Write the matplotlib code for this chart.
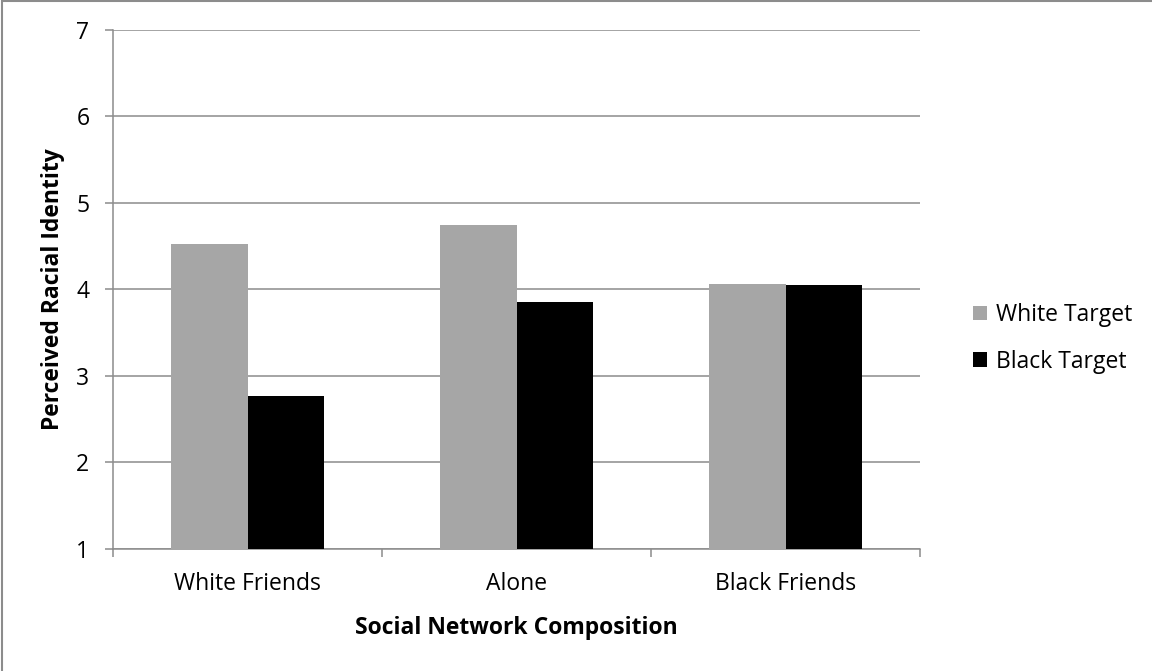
import matplotlib

matplotlib.use("Agg")
import matplotlib.pyplot as plt
import numpy as np
from matplotlib.patches import Rectangle

plt.rcParams["font.family"] = ["Open Sans", "DejaVu Sans"]

categories = ["White Friends", "Alone", "Black Friends"]
white_target = [4.52, 4.74, 4.06]
black_target = [2.77, 3.85, 4.05]
series_names = ["White Target", "Black Target"]
series_colors = ["#A6A6A6", "#000000"]

grid_gray = "#8C8C8C"
fs = 16.5

fig = plt.figure(figsize=(11.52, 6.71), dpi=100)
ax = fig.add_axes([113 / 1152, 1 - 548.7 / 671, (920 - 113) / 1152, (548.7 - 30) / 671])

x = np.arange(len(categories))
width = 0.285
base = 1
for k, (vals, name, color) in enumerate(zip([white_target, black_target], series_names, series_colors)):
    offset = (k - 0.5) * width
    ax.bar(
        x + offset,
        np.array(vals) - base,
        width,
        bottom=base,
        color=color,
        label=name,
        zorder=3,
    )

ax.set_xlim(-0.5, len(categories) - 0.5)
ax.set_ylim(1, 7)
ax.set_yticks(np.arange(1, 8))
ax.yaxis.grid(True, color=grid_gray, linewidth=1.1, zorder=0)

ax.set_xticks(x)
ax.set_xticklabels(categories, fontsize=fs)
ax.set_xticks(np.arange(-0.5, len(categories)), minor=True)
ax.tick_params(axis="x", which="major", length=0, pad=17)
ax.tick_params(axis="x", which="minor", length=5.5, width=1.1, color=grid_gray, direction="out")
ax.tick_params(axis="y", length=6, width=1.1, color=grid_gray, labelsize=fs, pad=11)

for side in ["top", "right"]:
    ax.spines[side].set_visible(False)
for side in ["left", "bottom"]:
    ax.spines[side].set_color(grid_gray)
    ax.spines[side].set_linewidth(1.1)

ax.set_xlabel("Social Network Composition", fontsize=fs, fontweight="bold", labelpad=14)
ax.set_ylabel("Perceived Racial Identity", fontsize=fs, fontweight="bold", labelpad=8)

ax.legend(
    loc="center left",
    bbox_to_anchor=(952 / 1152, 1 - 338.5 / 671),
    bbox_transform=fig.transFigure,
    frameon=False,
    fontsize=fs,
    handlelength=0.62,
    handleheight=0.62,
    handletextpad=0.4,
    labelspacing=1.0,
)

fig.patches.append(
    Rectangle(
        (0.0015, -0.05),
        1.1,
        1.049,
        transform=fig.transFigure,
        fill=False,
        edgecolor=grid_gray,
        linewidth=1.5,
    )
)

fig.savefig("out.png", dpi=100)
